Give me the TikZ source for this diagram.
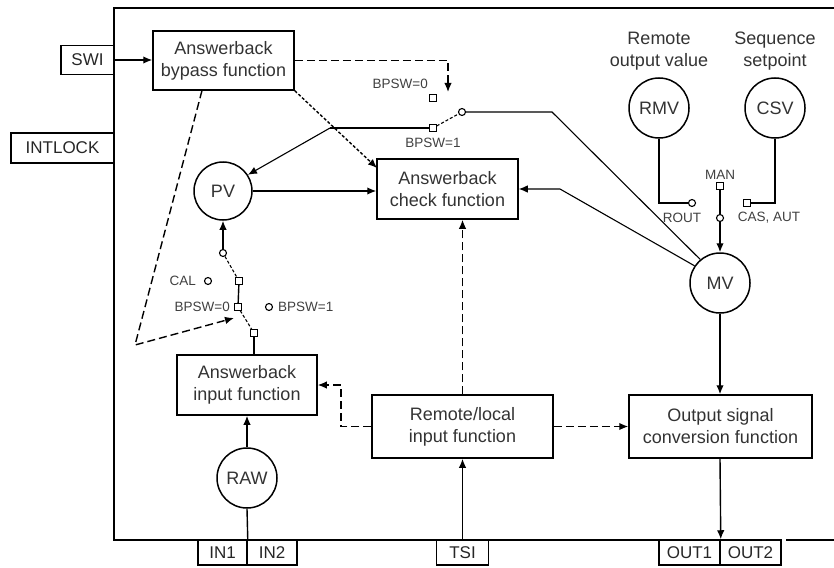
\documentclass[tikz,border=0pt]{standalone}
\usepackage{fontspec}
\setmainfont{Liberation Sans}
\usetikzlibrary{arrows.meta}
\begin{document}
\begin{tikzpicture}[x=1pt,y=-1pt,
  fbox/.style={draw=black, line width=1.5pt, inner sep=0pt, align=center, font=\fontsize{18}{22}\selectfont, text=black!80},
  circ/.style={draw, circle, line width=1.5pt, minimum size=60pt, inner sep=0pt, font=\fontsize{18}{22}\selectfont, text=black!80},
  io/.style={draw, line width=1.5pt, inner sep=0pt, font=\fontsize{17}{20}\selectfont, text=black!85},
  small/.style={font=\fontsize{13.5}{15}\selectfont, inner sep=0pt, text=black!75},
  lbl/.style={align=center, font=\fontsize{18}{22}\selectfont, inner sep=0pt, text=black!80},
  sq/.style={draw, line width=1.1pt, fill=white, minimum size=6.5pt, inner sep=0pt},
  ct/.style={draw, circle, line width=1.1pt, fill=white, minimum size=7pt, inner sep=0pt},
  conn/.style={line width=1.4pt},
  arr/.style={conn, -{Latex[length=9pt,width=7.5pt]}},
  dsh/.style={dash pattern=on 8pt off 4pt},
  fdsh/.style={dash pattern=on 3pt off 2pt},
]
\useasboundingbox (0,0) rectangle (834,567);

% frame
\draw[line width=1.5pt] (834,8) -- (114,8) -- (114,540) -- (781,540);
\draw[line width=1.5pt] (786,540) -- (834,540);

% io boxes
\node[io, minimum width=53pt, minimum height=29pt] (swi) at (87.5,60) {SWI};
\node[io, minimum width=103pt, minimum height=30pt] (intlock) at (62.5,148) {INTLOCK};
\node[io, minimum width=49pt, minimum height=25pt] (in1) at (222.5,552.5) {IN1};
\node[io, minimum width=50pt, minimum height=25pt] (in2) at (272,552.5) {IN2};
\node[io, minimum width=52pt, minimum height=25pt] (tsi) at (462.5,552.5) {TSI};
\node[io, minimum width=61pt, minimum height=25pt] (out1) at (689.5,552.5) {OUT1};
\node[io, minimum width=61pt, minimum height=25pt] (out2) at (750.5,552.5) {OUT2};

% function boxes
\node[fbox, minimum width=141pt, minimum height=59pt] (bypass) at (223.5,60.5) {Answerback\\bypass function};
\node[fbox, minimum width=141pt, minimum height=60pt] (check) at (447.5,189) {Answerback\\check function};
\node[fbox, minimum width=140pt, minimum height=60pt] (abin) at (247,385) {Answerback\\input function};
\node[fbox, minimum width=181pt, minimum height=63pt] (rl) at (462.5,426.5) {Remote/local\\input function};
\node[fbox, minimum width=183pt, minimum height=63pt] (osc) at (720.5,426.5) {Output signal\\conversion function};

% circles
\node[circ, minimum size=58pt] (pv) at (223,191) {PV};
\node[circ] (rmv) at (659,108) {RMV};
\node[circ] (csv) at (775,108) {CSV};
\node[circ] (mv) at (720,283) {MV};
\node[circ] (raw) at (247,478) {RAW};

% labels over circles
\node[lbl] at (659,51) {Remote\\output value};
\node[lbl] at (775,51) {Sequence\\setpoint};

% SWI -> bypass
\draw[arr] (swi.east) -- (swi.east -| bypass.west);

% bypass dashed to BPSW switch
\coordinate (bd1) at (448,60.5);
\coordinate (bd2) at (448,92);
\draw[arr, dsh] (bypass.east) -- (bd1) -- (bd2);

% bypass -> check (fine dashed)
\coordinate (ckin) at (377,168);
\draw[arr, fdsh] (bypass.south east) -- (ckin);

% bypass triangle to PV switch
\coordinate (t1) at (202,90.5);
\coordinate (t2) at (135,345);
\coordinate (t3) at (234,318);
\draw[arr, dsh] (t1) -- (t2) -- (t3);

% top BPSW switch
\node[sq] (b0) at (433,98) {};
\node[sq] (b1) at (433,128) {};
\node[ct] (bc) at (462,112) {};
\coordinate (bj) at (552,112);
\coordinate (pj) at (330,128);
\draw[conn] (b1.west) -- (pj);
\draw[arr, line width=1.1pt] (pj) -- (pv.33);
\draw[line width=1.1pt, fdsh] (b1) -- (bc);
\draw[line width=1.1pt] (bc.east) -- (bj) -- (mv.130);
\node[small, anchor=east] at (428,84) {BPSW=0};
\node[small] at (433,143) {BPSW=1};

% PV -> check
\draw[arr] (pv.east) -- (pv.east -| check.west);

% MV -> check
\coordinate (mj) at (560,189);
\draw[arr, line width=1.1pt] (mv.146) -- (mj) -- (check.east);

% PV input switch
\node[ct] (p0) at (223,253) {};
\node[sq] (p1) at (239,281) {};
\node[ct] (pcal) at (208,281) {};
\node[sq] (p2) at (238,307) {};
\node[ct] (pb1) at (269,307) {};
\node[sq] (p3) at (254,333) {};
\draw[arr] (p0) -- (pv);
\draw[line width=1.1pt, fdsh] (p0) -- (p1);
\draw[conn] (p1) -- (p2);
\draw[line width=1.1pt, fdsh] (p2) -- (p3);
\draw[conn] (p3) -- (p3 |- abin.north);
\node[small, anchor=east] at (196,281) {CAL};
\node[small, anchor=east] at (230,307) {BPSW=0};
\node[small, anchor=west] at (278,307) {BPSW=1};

% MV selector switch
\node[ct] (rc) at (692,203) {};
\node[sq] (cc) at (747,203) {};
\node[sq] (mc) at (720,186) {};
\node[ct] (mvc) at (720,218) {};
\draw[conn] (rmv.south) |- (rc.west);
\draw[conn] (csv.south) |- (cc.east);
\draw[conn] (mc) -- (mvc);
\draw[arr] (mvc) -- (mv);
\node[small] at (720,175) {MAN};
\node[small] at (682,218) {ROUT};
\node[small] at (769,218) {CAS, AUT};

% remote/local connections
\draw[arr, dsh] (rl.north) -- (rl.north |- check.south);
\coordinate (r1) at (341,426.5);
\coordinate (r2) at (341,385);
\draw[arr, dsh] (rl.west) -- (r1) -- (r2) -- (abin.east);
\draw[arr, dsh] (rl.east) -- (osc.west);
\draw[arr] (tsi.north) -- (rl.south -| tsi.north);

% MV -> output conversion -> OUT
\draw[arr] (mv.south) -- (mv |- osc.north);
\draw[arr] (mv |- osc.south) -- (out1.north east);

% RAW
\draw[arr] (raw.north) -- (abin.south);
\draw[conn] (raw.south) -- (in1.north east);
\end{tikzpicture}
\end{document}
